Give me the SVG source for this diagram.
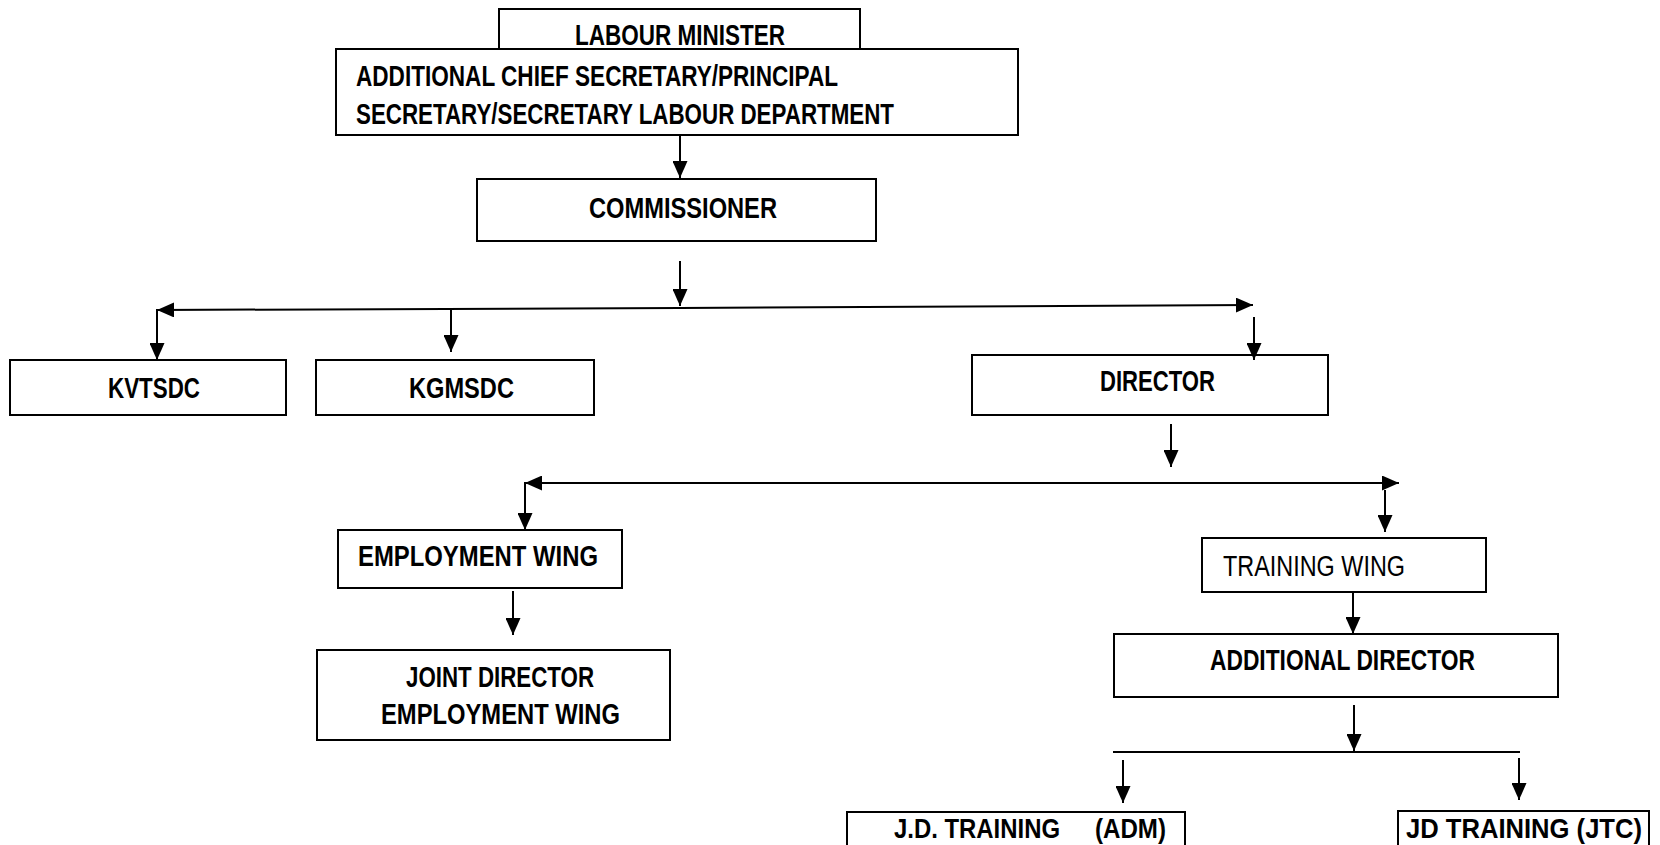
<svg xmlns="http://www.w3.org/2000/svg" width="1660" height="845" viewBox="0 0 1660 845">
<style>
.box{fill:#fff;stroke:#000;stroke-width:2}
.t{font-family:"Liberation Sans Narrow","Liberation Sans",Arial,sans-serif;font-weight:bold;font-size:29px;fill:#000}
.b{font-size:27px}
.r{font-family:"Liberation Sans Narrow","Liberation Sans",Arial,sans-serif;font-weight:normal;font-size:29px;fill:#000}
.c{fill:none;stroke:#000;stroke-width:2}
</style>
<defs>
<marker id="ah" markerUnits="userSpaceOnUse" markerWidth="17" markerHeight="15" viewBox="0 0 17 15" refX="17" refY="7.5" orient="auto">
<path d="M0,0 L17,7.5 L0,15 z" fill="#000"/>
</marker>
</defs>
<rect width="1660" height="845" fill="#fff"/>
<g id="labour-minister">
<rect class="box" x="499" y="9" width="361" height="45"/>
<text class="t" x="575" y="45" textLength="210" lengthAdjust="spacingAndGlyphs">LABOUR MINISTER</text>
</g>
<g id="acs">
<rect class="box" x="336" y="49" width="682" height="86"/>
<text class="t" x="356" y="86" textLength="482" lengthAdjust="spacingAndGlyphs">ADDITIONAL CHIEF SECRETARY/PRINCIPAL</text>
<text class="t" x="356" y="124" textLength="538" lengthAdjust="spacingAndGlyphs">SECRETARY/SECRETARY LABOUR DEPARTMENT</text>
</g>
<g id="commissioner">
<rect class="box" x="477" y="179" width="399" height="62"/>
<text class="t" x="589" y="218" textLength="188" lengthAdjust="spacingAndGlyphs">COMMISSIONER</text>
</g>
<g id="kvtsdc">
<rect class="box" x="10" y="360" width="276" height="55"/>
<text class="t" x="108" y="398" textLength="92" lengthAdjust="spacingAndGlyphs">KVTSDC</text>
</g>
<g id="kgmsdc">
<rect class="box" x="316" y="360" width="278" height="55"/>
<text class="t" x="409" y="398" textLength="105" lengthAdjust="spacingAndGlyphs">KGMSDC</text>
</g>
<g id="director">
<rect class="box" x="972" y="355" width="356" height="60"/>
<text class="t" x="1100" y="391" textLength="115" lengthAdjust="spacingAndGlyphs">DIRECTOR</text>
</g>
<g id="employment-wing">
<rect class="box" x="338" y="530" width="284" height="58"/>
<text class="t" x="358" y="566" textLength="240" lengthAdjust="spacingAndGlyphs">EMPLOYMENT WING</text>
</g>
<g id="jd-employment">
<rect class="box" x="317" y="650" width="353" height="90"/>
<text class="t" x="406" y="687" textLength="188" lengthAdjust="spacingAndGlyphs">JOINT DIRECTOR</text>
<text class="t" x="381" y="724" textLength="239" lengthAdjust="spacingAndGlyphs">EMPLOYMENT WING</text>
</g>
<g id="training-wing">
<rect class="box" x="1202" y="538" width="284" height="54"/>
<text class="r" x="1223" y="576" textLength="182" lengthAdjust="spacingAndGlyphs">TRAINING WING</text>
</g>
<g id="additional-director">
<rect class="box" x="1114" y="634" width="444" height="63"/>
<text class="t" x="1210" y="670" textLength="265" lengthAdjust="spacingAndGlyphs">ADDITIONAL DIRECTOR</text>
</g>
<g id="jd-training-adm">
<rect class="box" x="847" y="812" width="338" height="50"/>
<text class="t b" y="838"><tspan x="894" textLength="166" lengthAdjust="spacingAndGlyphs">J.D. TRAINING</tspan><tspan x="1095" textLength="71" lengthAdjust="spacingAndGlyphs">(ADM)</tspan></text>
</g>
<g id="jd-training-jtc">
<rect class="box" x="1398" y="811" width="251" height="50"/>
<text class="t b" x="1406" y="838" textLength="236" lengthAdjust="spacingAndGlyphs">JD TRAINING (JTC)</text>
</g>
<g id="connectors">
<line class="c" x1="680" y1="135" x2="680" y2="178" marker-end="url(#ah)"/>
<line class="c" x1="680" y1="261" x2="680" y2="306" marker-end="url(#ah)"/>
<line class="c" x1="680" y1="308" x2="157" y2="310" marker-end="url(#ah)"/>
<line class="c" x1="680" y1="308" x2="1253" y2="305" marker-end="url(#ah)"/>
<line class="c" x1="157" y1="309" x2="157" y2="360" marker-end="url(#ah)"/>
<line class="c" x1="451" y1="309" x2="451" y2="352" marker-end="url(#ah)"/>
<line class="c" x1="1254" y1="317" x2="1254" y2="360" marker-end="url(#ah)"/>
<line class="c" x1="1171" y1="424" x2="1171" y2="467" marker-end="url(#ah)"/>
<line class="c" x1="960" y1="483" x2="525" y2="483" marker-end="url(#ah)"/>
<line class="c" x1="960" y1="483" x2="1399" y2="483" marker-end="url(#ah)"/>
<line class="c" x1="525" y1="482" x2="525" y2="530" marker-end="url(#ah)"/>
<line class="c" x1="1385" y1="490" x2="1385" y2="532" marker-end="url(#ah)"/>
<line class="c" x1="513" y1="591" x2="513" y2="635" marker-end="url(#ah)"/>
<line class="c" x1="1353" y1="592" x2="1353" y2="634" marker-end="url(#ah)"/>
<line class="c" x1="1354" y1="705" x2="1354" y2="751" marker-end="url(#ah)"/>
<line class="c" x1="1113" y1="752" x2="1520" y2="752"/>
<line class="c" x1="1123" y1="760" x2="1123" y2="803" marker-end="url(#ah)"/>
<line class="c" x1="1519" y1="758" x2="1519" y2="800" marker-end="url(#ah)"/>
</g>
</svg>
